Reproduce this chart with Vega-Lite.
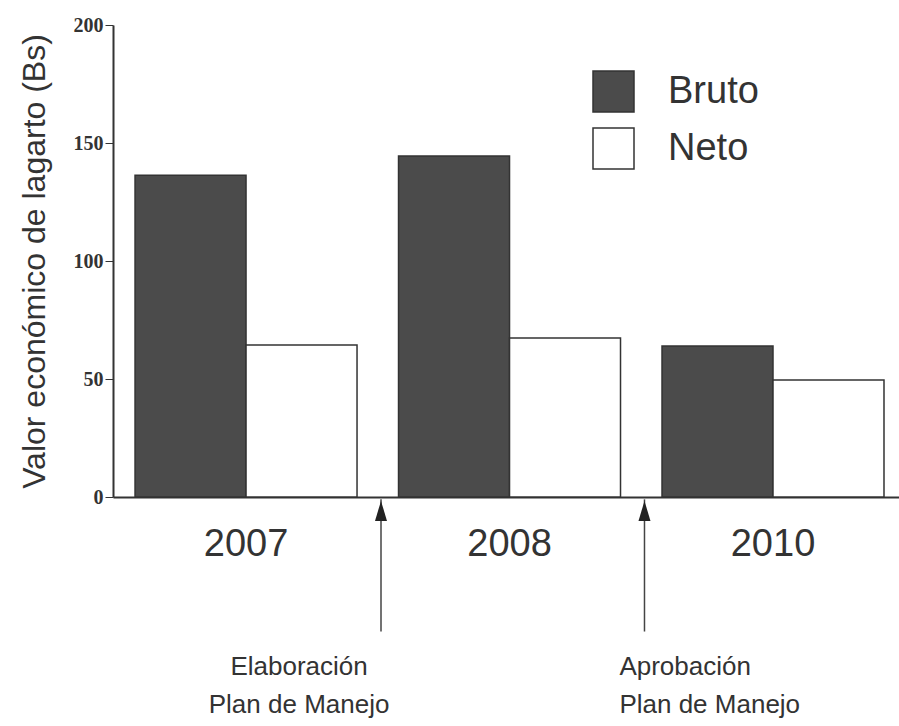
{
  "$schema": "https://vega.github.io/schema/vega-lite/v6.json",
  "width": 786,
  "height": 472,
  "autosize": {"type": "none"},
  "padding": {"left": 113, "top": 25, "right": 0, "bottom": 229},
  "background": "white",
  "config": {"view": {"stroke": null}, "font": "Liberation Sans"},
  "datasets": {
    "bars": [
      {"year": "2007", "tipo": "Bruto", "valor": 136.3},
      {"year": "2007", "tipo": "Neto", "valor": 64.4},
      {"year": "2008", "tipo": "Bruto", "valor": 144.5},
      {"year": "2008", "tipo": "Neto", "valor": 67.4},
      {"year": "2010", "tipo": "Bruto", "valor": 64.0},
      {"year": "2010", "tipo": "Neto", "valor": 49.6}
    ],
    "events": [
      {"year": "2007", "evento": ["Elaboración", "Plan de Manejo"]},
      {"year": "2008", "evento": ["Aprobación", "Plan de Manejo"]}
    ]
  },
  "layer": [
    {
      "data": {"name": "bars"},
      "mark": {"type": "bar", "stroke": "#333333", "strokeWidth": 1.5},
      "encoding": {
        "x": {
          "field": "year",
          "type": "nominal",
          "scale": {"paddingInner": 0.1575, "paddingOuter": 0.0703, "align": 0.595},
          "axis": {
            "title": null,
            "labelAngle": 0,
            "ticks": false,
            "labelPadding": 28,
            "labelFontSize": 38,
            "labelFont": "Liberation Sans",
            "labelColor": "#333333",
            "domainColor": "#333333",
            "domainWidth": 2
          }
        },
        "xOffset": {
          "field": "tipo",
          "type": "nominal",
          "scale": {"paddingInner": 0, "paddingOuter": 0}
        },
        "y": {
          "field": "valor",
          "type": "quantitative",
          "scale": {"domain": [0, 200], "nice": false},
          "axis": {
            "title": "Valor económico de lagarto (Bs)",
            "values": [0, 50, 100, 150, 200],
            "grid": false,
            "tickSize": 8,
            "tickColor": "#333333",
            "domainColor": "#333333",
            "domainWidth": 2,
            "labelFont": "Liberation Serif",
            "labelFontWeight": "bold",
            "labelFontSize": 20,
            "labelColor": "#333333",
            "labelPadding": 2,
            "titleFont": "Liberation Sans",
            "titleFontSize": 32,
            "titleFontWeight": "normal",
            "titleColor": "#333333",
            "titlePadding": 22
          }
        },
        "fill": {
          "field": "tipo",
          "type": "nominal",
          "scale": {"range": ["#4b4b4b", "#ffffff"]},
          "legend": {
            "title": null,
            "orient": "none",
            "legendX": 479,
            "legendY": 45,
            "padding": 0,
            "symbolType": "square",
            "symbolSize": 1681,
            "symbolStrokeColor": "#333333",
            "symbolStrokeWidth": 1.5,
            "symbolOpacity": 1,
            "labelFontSize": 38,
            "labelFont": "Liberation Sans",
            "labelColor": "#333333",
            "labelOffset": 33,
            "rowPadding": 10
          }
        }
      }
    },
    {
      "mark": {"type": "rule", "color": "#c8c8c8", "strokeWidth": 2},
      "encoding": {"y": {"datum": 200}}
    },
    {
      "data": {"name": "events"},
      "mark": {"type": "rule", "color": "#444444", "strokeWidth": 1.5},
      "encoding": {
        "x": {"field": "year", "type": "nominal", "bandPosition": 1.108},
        "y": {"datum": -1},
        "y2": {"datum": -57}
      }
    },
    {
      "data": {"name": "events"},
      "mark": {"type": "point", "shape": "M0,-1L0.6,1L-0.6,1Z", "size": 400, "filled": true, "color": "#222222", "opacity": 1},
      "encoding": {
        "x": {"field": "year", "type": "nominal", "bandPosition": 1.108},
        "y": {"datum": -5.9}
      }
    },
    {
      "data": {"name": "events"},
      "transform": [{"filter": "datum.year == '2007'"}],
      "mark": {"type": "text", "align": "center", "baseline": "alphabetic", "fontSize": 26, "lineHeight": 38, "color": "#333333", "font": "Liberation Sans"},
      "encoding": {
        "x": {"field": "year", "type": "nominal", "bandPosition": 0.739},
        "y": {"datum": -75.4},
        "text": {"field": "evento"}
      }
    },
    {
      "data": {"name": "events"},
      "transform": [{"filter": "datum.year == '2008'"}],
      "mark": {"type": "text", "align": "left", "baseline": "alphabetic", "fontSize": 26, "lineHeight": 38, "color": "#333333", "font": "Liberation Sans"},
      "encoding": {
        "x": {"field": "year", "type": "nominal", "bandPosition": 0.995},
        "y": {"datum": -75.4},
        "text": {"field": "evento"}
      }
    }
  ]
}
